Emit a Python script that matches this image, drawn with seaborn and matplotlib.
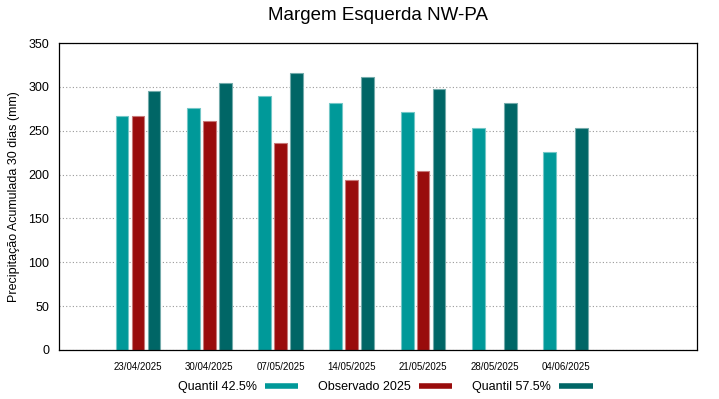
import matplotlib
matplotlib.use("Agg")
import matplotlib.pyplot as plt
import matplotlib.colors as mc
from matplotlib.lines import Line2D
import numpy as np
import pandas as pd
import seaborn as sns

datas = ["23/04/2025", "30/04/2025", "07/05/2025", "14/05/2025",
         "21/05/2025", "28/05/2025", "04/06/2025"]
q425 = [267, 276, 290, 282, 271, 253, 226]
obs2025 = [267, 261, 236, 194, 204, np.nan, np.nan]
q575 = [295, 304, 316, 311, 298, 282, 253]

series = ["Quantil 42.5%", "Observado 2025", "Quantil 57.5%"]
cores = ["#009999", "#990c0c", "#006666"]

df = pd.DataFrame({
    "data": datas * 3,
    "serie": [series[0]] * 7 + [series[1]] * 7 + [series[2]] * 7,
    "valor": q425 + obs2025 + q575,
})

sns.set_style("white")
plt.rcParams["font.family"] = ["Liberation Sans", "DejaVu Sans"]
for k in ["text.color", "axes.labelcolor", "xtick.color", "ytick.color"]:
    plt.rcParams[k] = "black"

fig = plt.figure(figsize=(7.19, 3.99), dpi=100)
ax = fig.add_axes([0.082, 0.123, 0.887, 0.769])

sns.barplot(data=df, x="data", y="valor", hue="serie", hue_order=series,
            palette=cores, saturation=1, width=0.672, gap=0.2, ax=ax,
            legend=False, errorbar=None, linewidth=0.8, edgecolor="white")

# bordas claras como no original
for p in ax.patches:
    fc = np.array(mc.to_rgb(p.get_facecolor()))
    p.set_edgecolor(fc + (1 - fc) * 0.45)

ax.set_xlim(-1.11, 7.84)
ax.set_ylim(0, 350)
ax.set_yticks(range(0, 351, 50))
ax.yaxis.grid(True, linestyle=(0, (1, 2)), color="#999999", linewidth=0.8)
ax.set_axisbelow(True)
ax.tick_params(axis="y", direction="in", length=4, labelsize=9, pad=7)
ax.tick_params(axis="x", direction="in", length=4, labelsize=7, pad=9)
for s in ax.spines.values():
    s.set_color("black")
    s.set_linewidth(0.9)

ax.set_xlabel("")
ax.set_ylabel("Precipitação Acumulada 30 dias (mm)", fontsize=9, labelpad=6)
fig.text(0.526, 0.96, "Margem Esquerda NW-PA", fontsize=13.5,
         ha="center", va="center")

handles = [Line2D([], [], color=c, linewidth=4, solid_capstyle="butt")
           for c in cores]
fig.legend(handles, series, loc="center", bbox_to_anchor=(0.536, 0.03),
           ncol=3, markerfirst=False, frameon=False, fontsize=9,
           handlelength=2.7, columnspacing=1.6, handletextpad=0.6)

fig.savefig("out.png", dpi=100)
